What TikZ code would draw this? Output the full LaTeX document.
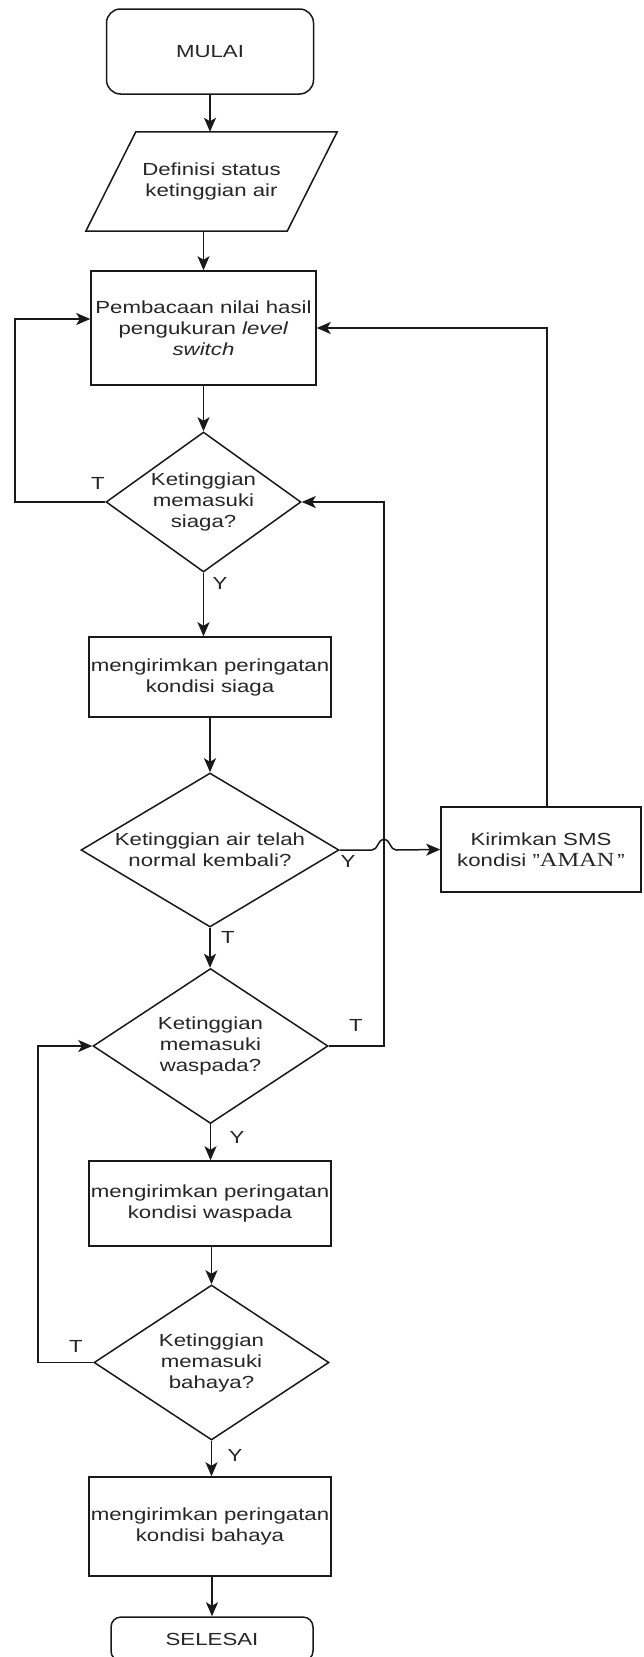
\documentclass[tikz,border=0pt]{standalone}
\usepackage{fontspec}
\setmainfont{Liberation Sans}[FakeStretch=1.27]
\newfontfamily\serifaman{Liberation Serif}[FakeStretch=1.22]
\usetikzlibrary{shapes.geometric,arrows.meta}

\begin{document}
\begin{tikzpicture}[x=1pt, y=-1pt,
    font=\fontsize{17.5}{21}\selectfont,
    every node/.style={text=black!85},
    garis/.style={line width=1.5pt, draw=black!90},
    terminal/.style={garis, rectangle, rounded corners=14pt, inner sep=0pt},
    proses/.style={garis, rectangle, align=center, inner sep=0pt},
    masukan/.style={rectangle, align=center, inner sep=0pt},
    keputusan/.style={garis, diamond, inner sep=0pt},
    ket/.style={inner sep=0pt},
    panah/.style={garis, -{Stealth[length=14pt, width=12pt, inset=3.5pt]}}]
    \useasboundingbox[fill=white] (0,0) rectangle (643,1657);

    \node[terminal, minimum width=207, minimum height=85] (mulai) at (210,51.5) {MULAI};
    \node[masukan, minimum width=201, minimum height=99] (def) at (211.5,181.5) {Definisi status\\ketinggian air};
    % JAJARAN GENJANG
    \draw[garis] ([xshift=25pt]def.north west) -- ([xshift=25pt]def.north east)
        -- ([xshift=-25pt]def.south east) -- ([xshift=-25pt]def.south west) -- cycle;
    \node[proses, minimum width=225, minimum height=114] (baca) at (203.5,328) {Pembacaan nilai hasil\\pengukuran \textit{level}\\\textit{switch}};
    \node[keputusan, minimum width=195, minimum height=140,
        label={[align=center]center:{Ketinggian\\memasuki\\siaga?}}] (d1) at (203.5,502) {};
    \node[proses, minimum width=242, minimum height=80] (siaga) at (210,677) {mengirimkan peringatan\\kondisi siaga};
    \node[keputusan, minimum width=258, minimum height=154,
        label={[align=center]center:{Ketinggian air telah\\normal kembali?}}] (d2) at (210,850) {};
    \node[proses, minimum width=200, minimum height=85] (kirim) at (541,849.5) {Kirimkan SMS\\kondisi "{\serifaman\fontsize{20}{21}\selectfont AMAN}\,"};
    \node[keputusan, minimum width=235, minimum height=155,
        label={[align=center]center:{Ketinggian\\memasuki\\waspada?}}] (d3) at (210.5,1046) {};
    \node[proses, minimum width=242, minimum height=85] (waspada) at (210,1203.5) {mengirimkan peringatan\\kondisi waspada};
    \node[keputusan, minimum width=235, minimum height=155,
        label={[align=center]center:{Ketinggian\\memasuki\\bahaya?}}] (d4) at (211.5,1362.5) {};
    \node[proses, minimum width=242, minimum height=99] (bahaya) at (210,1526.5) {mengirimkan peringatan\\kondisi bahaya};
    \node[terminal, rounded corners=10pt, minimum width=202, minimum height=44] (selesai) at (212,1639) {SELESAI};

    % ALUR UTAMA
    \draw[panah] (mulai.south) -- (mulai.south |- def.north);
    \draw[panah] (def.south -| baca.north) -- (baca.north);
    \draw[panah] (baca) -- (d1);
    \draw[panah] (d1.south) -- (d1.south |- siaga.north);
    \draw[panah] (siaga) -- (d2);
    \draw[panah] (d2.south) -- (d2.south |- d3.north);
    \draw[panah] (d3.south) -- (d3.south |- waspada.north);
    \draw[panah] (waspada.south -| d4.north) -- (d4.north);
    \draw[panah] (d4.south) -- (d4.south |- bahaya.north);
    \draw[panah] (bahaya.south -| selesai.north) -- (selesai.north);

    % LOOP
    \coordinate (kiriA) at (15,0);
    \coordinate (kiriB) at (38,0);
    \coordinate (kanan) at (384,0);
    \coordinate (lompat) at (384,850);
    \draw[panah] (d1.west) -- (d1.west -| kiriA) |- ([yshift=9pt]baca.west);
    \draw[panah] (d4.west) -- (d4.west -| kiriB) |- (d3.west);
    \draw[panah] (d3.east) -- (d3.east -| kanan) |- (d1.east);
    \draw[panah] ([xshift=6pt]kirim.north) |- (baca.east);
    \draw[panah] (d2.east) -- ([xshift=-12pt]lompat)
        .. controls ([xshift=-6pt]lompat) and ([xshift=-6pt,yshift=11pt]lompat) .. ([yshift=11pt]lompat)
        .. controls ([xshift=6pt,yshift=11pt]lompat) and ([xshift=6pt]lompat) .. ([xshift=12pt]lompat)
        -- (kirim.west);

    \node[ket] (t1) at (98,483) {T};
    \node[ket] (y1) at (220,583) {Y};
    \node[ket] (y2) at (348,861) {Y};
    \node[ket] (t2) at (228,937) {T};
    \node[ket] (t3) at (356,1025) {T};
    \node[ket] (y3) at (237,1137) {Y};
    \node[ket] (t4) at (76,1346) {T};
    \node[ket] (y4) at (235,1455) {Y};
\end{tikzpicture}
\end{document}
